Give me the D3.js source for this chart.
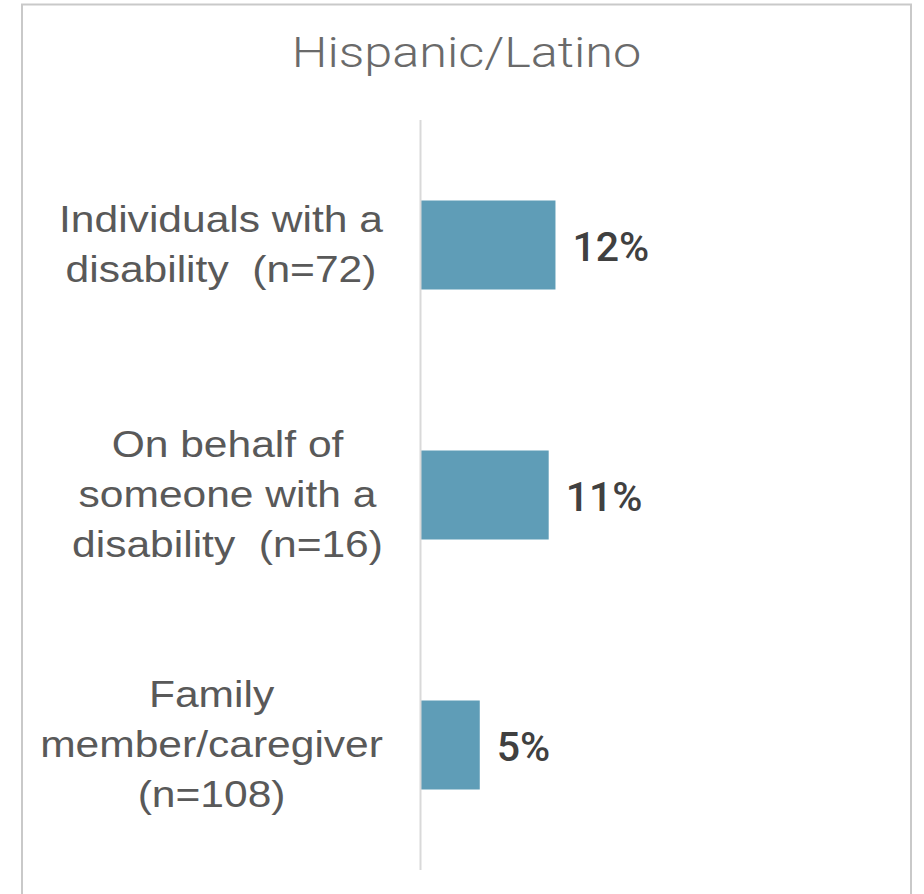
<!DOCTYPE html>
<html><head><meta charset="utf-8">
<script src="https://cdn.jsdelivr.net/npm/d3@7"></script>
<style>html,body{margin:0;padding:0;background:#fff;}svg{display:block;}text{white-space:pre;}</style>
</head><body>
<script>
const title = "Hispanic/Latino";
const categories = [
  ["Individuals with a", "disability  (n=72)"],
  ["On behalf of", "someone with a", "disability  (n=16)"],
  ["Family", "member/caregiver", "(n=108)"]
];
const values = [11.9, 11.3, 5.2];
const valueLabels = ["12%", "11%", "5%"];

const W = 924, H = 894;
const svg = d3.select("body").append("svg").attr("width", W).attr("height", H);

svg.append("rect").attr("x", 22).attr("y", 4.5).attr("width", 889).attr("height", 1000)
  .attr("fill", "none").attr("stroke", "#c9c9c9").attr("stroke-width", 2);

const x0 = 421;
const x = d3.scaleLinear().domain([0, 10]).range([x0, x0 + 113]);
const y = d3.scaleBand().domain(d3.range(categories.length)).range([120, 870]).paddingInner(0.644).paddingOuter(0.322);

// title
svg.append("text").text(title)
  .attr("transform", `translate(466.5,${67}) scale(1.2,1)`)
  .attr("text-anchor", "middle")
  .style("font-family", "Roboto, 'Liberation Sans', sans-serif")
  .style("font-weight", 300)
  .style("font-size", "42px")
  .attr("fill", "#6a6a6a");

// bars
svg.selectAll("rect.bar").data(values).join("rect").attr("class", "bar")
  .attr("x", x(0)).attr("y", (d, i) => y(i))
  .attr("width", d => x(d) - x(0)).attr("height", y.bandwidth())
  .attr("fill", "#5f9db7");

// axis line
svg.append("line").attr("x1", x0 - 0.5).attr("x2", x0 - 0.5).attr("y1", 120).attr("y2", 870)
  .attr("stroke", "#d9d9d9").attr("stroke-width", 2);

// value labels
svg.selectAll("text.val").data(values).join("text").attr("class", "val")
  .attr("x", d => x(d) + 17)
  .attr("y", (d, i) => y(i) + y.bandwidth() / 2 + 15.5)
  .text((d, i) => valueLabels[i])
  .style("font-family", "Roboto, 'Liberation Sans', sans-serif")
  .style("font-weight", 500)
  .style("font-size", "41px")
  .attr("fill", "#404040");

// category labels
const rightEdge = 383, sx = 1.15, lh = 50;
categories.forEach((lines, i) => {
  const cy = y(i) + y.bandwidth() / 2;
  const g = svg.append("g");
  const texts = lines.map((ln, j) => g.append("text").text(ln)
    .attr("xml:space", "preserve")
    .attr("text-anchor", "middle")
    .style("font-family", "'Liberation Sans', Arial, sans-serif")
    .style("font-size", "37px")
    .attr("fill", "#595959"));
  const maxW = d3.max(texts, t => t.node().getComputedTextLength()) * sx;
  const cx = rightEdge - maxW / 2;
  texts.forEach((t, j) => {
    const by = cy + (j - (lines.length - 1) / 2) * lh + 12;
    t.attr("transform", `translate(${cx},${by}) scale(${sx},1)`);
  });
});
</script>
</body></html>
